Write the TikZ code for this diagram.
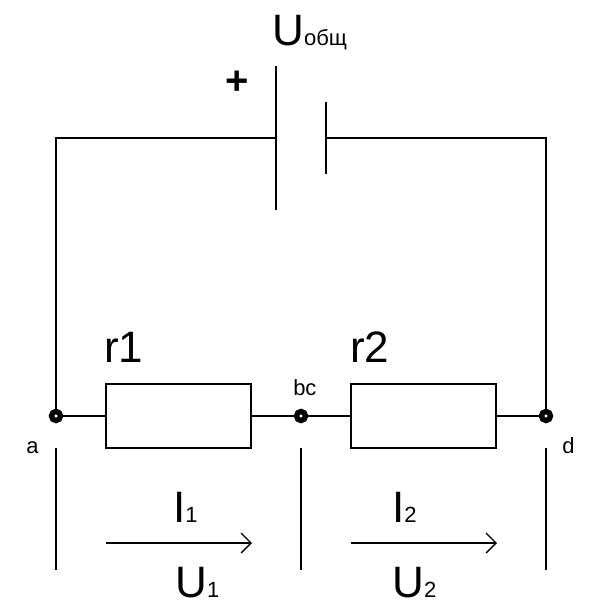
\documentclass[tikz,border=0pt]{standalone}
\usepackage{fontspec}
\setmainfont{Liberation Sans}
\usetikzlibrary{arrows.meta}
\begin{document}
\begin{tikzpicture}[x=0.75pt,y=-0.75pt]
\tikzstyle{wire} = [draw, line width=1.6pt];
\tikzstyle{plate} = [draw, line width=2pt];
\tikzstyle{resistor} = [rectangle, draw, line width=1.6pt, fill=white,
minimum width=108.75pt, minimum height=48pt, inner sep=0pt];
\tikzstyle{terminal} = [circle, draw, line width=4pt, fill=white,
minimum size=6.8pt, inner sep=0pt];
\tikzstyle{current} = [draw, line width=1pt, -{Straight Barb[length=7.5pt,width=15pt]}];
\tikzstyle{big} = [inner sep=0pt, anchor=base west, font=\fontsize{33}{36}\selectfont];
\tikzstyle{small} = [inner sep=0pt, anchor=base west, font=\fontsize{16.5}{18}\selectfont];
\newcommand{\sublabel}[1]{{\fontsize{16.5}{18}\selectfont #1}}
\useasboundingbox (0,0) rectangle (600,612);
% resistors and terminals
\node [resistor] (r1) at (178.5,416) {};
\node [resistor] (r2) at (423.5,416) {};
\node [terminal] (a) at (56,416) {};
\node [terminal] (bc) at (301,416) {};
\node [terminal] (d) at (546,416) {};
% battery
\coordinate (pos) at (276,138);
\coordinate (neg) at (326,138);
\coordinate (postop) at (276,66);
\coordinate (posbot) at (276,210);
\coordinate (negtop) at (326,102);
\coordinate (negbot) at (326,174);
% voltage ticks
\coordinate (atop) at (56,448);
\coordinate (abot) at (56,570);
\coordinate (bctop) at (301,448);
\coordinate (bcbot) at (301,570);
\coordinate (dtop) at (546,448);
\coordinate (dbot) at (546,570);
% current arrows
\coordinate (i1s) at (106,543);
\coordinate (i1e) at (252,543);
\coordinate (i2s) at (351,543);
\coordinate (i2e) at (497,543);
\path [plate] (postop) -- (posbot);
\path [plate] (negtop) -- (negbot);
\path [wire] (a) |- (pos);
\path [wire] (d) |- (neg);
\path [wire] (a) -- (r1);
\path [wire] (r1) -- (bc);
\path [wire] (bc) -- (r2);
\path [wire] (r2) -- (d);
\path [wire] (atop) -- (abot);
\path [wire] (bctop) -- (bcbot);
\path [wire] (dtop) -- (dbot);
\path [current] (i1s) -- (i1e);
\path [current] (i2s) -- (i2e);
% labels
\node [big] (uall) at (272,45) {U\sublabel{общ}};
\node [inner sep=0pt, font=\fontsize{30}{32}\selectfont\bfseries] (plus) at (237,83) {+};
\node [big] (lr1) at (104,362) {r1};
\node [big] (lr2) at (350,362) {r2};
\node [small] (la) at (26,453) {a};
\node [small] (lbc) at (293,395) {bc};
\node [small] (ld) at (562,453) {d};
\node [big] (li1) at (173,522) {I\sublabel{1}};
\node [big] (li2) at (392,522) {I\sublabel{2}};
\node [big] (lu1) at (175,597) {U\sublabel{1}};
\node [big] (lu2) at (392,597) {U\sublabel{2}};
\end{tikzpicture}
\end{document}
